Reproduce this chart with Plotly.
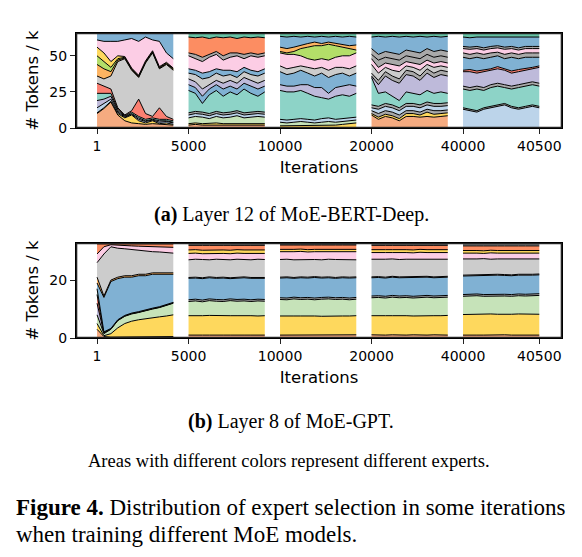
import plotly.graph_objects as go

# x layout: five windows of 500 iterations each, drawn side by side with gaps
PANEL_POS = [0, 600, 1200, 1800, 2400]
SAMPLE_OFFSETS = [0, 45, 91, 136, 182, 227, 273, 318, 364, 409, 455, 500]
TICK_POS = [0, 600, 1200, 1800, 2400, 2900]
TICK_TEXT = ["1", "5000", "10000", "20000", "40000", "40500"]
X_RANGE = [-138, 3049]

SALMON = "#f5ab80"
YELLOW = "#fed85d"
LGREEN = "#c6e3b9"
LBLUE = "#bcd4ea"
TEAL = "#8dd3c7"
LAVENDER = "#bebada"
RED = "#fb8072"
BLUE = "#80b1d3"
GRAY = "#cccccc"
PINK = "#fccde5"
LIME = "#b3de69"
ORANGE = "#fc8d62"
SEAGREEN = "#66c2a5"
AMBER = "#fdb462"
THIN = "#a9a9a9"

# (a) Layer 12 of MoE-BERT-Deep: cumulative tokens (k) at the upper edge of each expert, bottom expert first
bert_p1_colors = [SALMON, YELLOW, LBLUE, LAVENDER, TEAL, RED, GRAY, AMBER, LIME, YELLOW, PINK, BLUE]
bert_p1 = [
    [10, 13.5, 18, 9, 5, 3.5, 3, 2.5, 3, 2.5, 2.5, 2],
    [10.5, 14, 18.5, 10, 7, 9, 5, 3.5, 5, 3, 3.5, 2.5],
    [14, 17, 20, 11, 7.5, 9.5, 6, 4.5, 5.5, 4, 4.5, 3.5],
    [19, 20, 22, 12, 8, 10, 7, 5, 6, 5, 5, 4],
    [24, 24, 24, 13, 8.5, 11, 8, 6, 7, 6, 6, 5],
    [31, 29, 27, 14, 9, 12, 20, 10, 8, 14, 8, 6],
    [36, 34, 36, 46, 48, 40, 35, 45, 52, 41, 44, 40],
    [44, 41, 39, 47, 48.5, 40.5, 35.5, 45.5, 52.5, 41.5, 44.5, 40.5],
    [50, 46, 42, 48, 49, 41, 36, 46, 53, 42, 45, 41],
    [56, 52, 46, 50, 49.5, 41.5, 36.5, 46.5, 53.5, 42.5, 45.5, 41.5],
    [61, 60, 60, 60, 61, 62, 60, 63, 61, 60, 52, 48],
    [65.5, 65.5, 65.5, 65.5, 65.5, 65.5, 65.5, 65.5, 65.5, 65.5, 65.5, 65.5],
]

bert_p2_colors = [SALMON, YELLOW, LGREEN, LBLUE, THIN, TEAL, BLUE, LAVENDER, GRAY, BLUE, PINK, THIN, ORANGE, SEAGREEN]
bert_p2 = [
    [2, 2.5, 2, 2, 2.5, 2, 2, 2.5, 2, 2, 2.5, 2],
    [3, 3.5, 3, 3.5, 3.5, 3, 3, 3.5, 3, 3, 3.5, 3],
    [7, 8, 7.5, 6.5, 8, 7, 7.5, 8.5, 7, 7.5, 8, 7.5],
    [9, 10, 9.5, 8.5, 10, 9, 9.5, 10.5, 9, 9.5, 10, 9.5],
    [10.5, 11.5, 11, 10, 11.5, 10.5, 11, 12, 10.5, 11, 11.5, 11],
    [26, 24, 17, 23, 26, 22, 25, 23, 27, 24, 22, 25],
    [30, 28, 22, 27, 30, 27, 29, 27, 31, 29, 27, 29],
    [34, 32, 27, 30, 33, 31, 33, 31, 35, 33, 31, 33],
    [38, 37, 34, 35, 38, 36, 37, 35, 39, 37, 36, 38],
    [41, 40, 38, 39, 41, 40, 40, 39, 42, 40, 39, 41],
    [50, 48, 46, 49, 51, 47, 49, 50, 48, 50, 49, 50],
    [52, 51, 49, 51, 53, 50, 52, 52, 51, 52, 51, 52],
    [63, 62.5, 63, 62, 63, 62.5, 63, 62, 63, 62.5, 63, 62.5],
    [65.5, 65.5, 65.5, 65.5, 65.5, 65.5, 65.5, 65.5, 65.5, 65.5, 65.5, 65.5],
]

bert_p3_colors = [YELLOW, LGREEN, LBLUE, TEAL, LAVENDER, BLUE, GRAY, PINK, LIME, AMBER, BLUE, SEAGREEN]
bert_p3 = [
    [1.5, 1.5, 1.5, 1.5, 2, 1.5, 2, 1.5, 2, 2.5, 3, 3.5],
    [4, 3.5, 4, 4.5, 4, 3.5, 4, 4.5, 4, 4.5, 5, 5.5],
    [6, 5.5, 6, 6.5, 6, 5.5, 6.5, 7, 6, 6.5, 7, 7.5],
    [26, 25, 25, 26, 24, 22, 21, 20, 22, 23, 22, 24],
    [30, 29, 29, 30, 30, 28, 28, 24, 28, 29, 30, 29],
    [39, 37, 38, 40, 38, 36, 38, 35, 37, 38, 36, 38],
    [43, 41, 42, 43, 42, 41, 42, 40, 42, 42, 41, 43],
    [52, 51, 51, 50, 48, 47, 48, 47, 49, 50, 50, 52],
    [53, 52, 53, 55, 56, 57, 57, 58, 57, 56, 55, 54],
    [56, 55, 56, 57.5, 58.5, 59.5, 58.5, 59.5, 58.5, 58, 57, 57.5],
    [63.5, 63, 63.5, 63, 63.5, 63, 63.5, 63, 63.5, 63, 63.5, 63],
    [65.5, 65.5, 65.5, 65.5, 65.5, 65.5, 65.5, 65.5, 65.5, 65.5, 65.5, 65.5],
]

bert_p4_colors = [SALMON, YELLOW, THIN, LBLUE, THIN, TEAL, LAVENDER, THIN, GRAY, PINK, THIN, THIN, BLUE, SEAGREEN]
bert_p4 = [
    [9, 6, 8, 7, 5, 8, 8, 7.5, 8, 7.5, 8, 8.5],
    [10, 7.5, 9.5, 8.5, 6.5, 10, 10, 9, 11, 9.5, 10, 10.5],
    [12, 10, 12, 11, 9, 12, 12, 11, 13, 12, 12, 12.5],
    [14, 13, 15, 14, 12, 15, 15, 14, 16, 15, 15, 15.5],
    [16, 15, 17, 16, 14, 17, 17, 16, 18, 17, 17, 17.5],
    [35, 24, 25, 22, 19, 25, 24, 23, 26, 24, 25, 24],
    [36, 30, 36, 33, 31, 37, 36, 33, 38, 35, 37, 36],
    [38, 33, 39, 36, 34, 40, 39, 36, 41, 38, 40, 39],
    [44, 38, 42, 40, 39, 43, 42, 40, 44, 42, 43, 42],
    [48, 42, 45, 44, 43, 46, 45, 44, 47, 45, 46, 45],
    [51, 47, 49, 48, 47, 50, 49, 48, 51, 49, 50, 49],
    [55, 51, 53, 52, 51, 54, 53, 52, 55, 53, 54, 53],
    [63, 63.5, 63, 63.5, 63, 63.5, 63, 63.5, 63, 63.5, 63, 63.5],
    [65.5, 65.5, 65.5, 65.5, 65.5, 65.5, 65.5, 65.5, 65.5, 65.5, 65.5, 65.5],
]

bert_p5_colors = [LBLUE, THIN, TEAL, THIN, LAVENDER, RED, BLUE, THIN, PINK, THIN, BLUE, SEAGREEN]
bert_p5 = [
    [13, 12, 11, 13, 14, 15, 16, 14, 13, 14, 15, 14],
    [14, 13, 12, 14, 15, 16, 17, 15, 14, 15, 16, 15],
    [27, 26, 27, 26, 28, 29, 28, 27, 28, 29, 30, 29],
    [29, 28, 29, 28, 30, 31, 30, 29, 30, 31, 32, 31],
    [39, 39, 38, 39, 40, 41, 40, 38, 39, 40, 41, 42],
    [40, 40.5, 39.5, 40, 41, 42.5, 41, 39.5, 40.5, 41.5, 42, 43],
    [49, 48, 49, 48, 49, 50, 48, 49, 48, 49, 49, 49],
    [52, 51, 52, 51, 52, 52.5, 51, 52, 51, 52, 52, 52],
    [55, 54.5, 55, 54, 55, 55.5, 54.5, 55, 54, 55, 55, 55],
    [56.5, 56, 56.5, 55.5, 56.5, 57, 56, 56.5, 55.5, 56.5, 56.5, 56.5],
    [63, 62.5, 63, 63, 62.5, 63, 63, 62.5, 63, 63, 62.5, 63],
    [65.5, 65.5, 65.5, 65.5, 65.5, 65.5, 65.5, 65.5, 65.5, 65.5, 65.5, 65.5],
]

# (b) Layer 8 of MoE-GPT
gpt_p1_colors = [SALMON, YELLOW, LGREEN, LAVENDER, RED, TEAL, BLUE, AMBER, GRAY, PINK, ORANGE]
gpt_p1 = [
    [3, 0.5, 0.3, 0.3, 0.3, 0.3, 0.3, 0.3, 0.4, 0.4, 0.5, 0.5],
    [5, 0.8, 1.5, 3.5, 5, 5.8, 6.3, 6.7, 7, 7.3, 7.6, 8],
    [8, 1.5, 3, 6, 7.5, 8.3, 8.8, 9.5, 10, 10.5, 11.2, 12],
    [12, 1.7, 3.1, 6.1, 7.6, 8.4, 8.9, 9.6, 10.1, 10.6, 11.3, 12.1],
    [15, 1.9, 3.2, 6.2, 7.7, 8.5, 9, 9.7, 10.2, 10.7, 11.4, 12.2],
    [17, 2.1, 3.3, 6.3, 7.8, 8.6, 9.1, 9.8, 10.3, 10.8, 11.5, 12.3],
    [19, 14, 19.5, 20.5, 21, 21, 21.5, 21.5, 22, 22, 22, 22],
    [21, 14.5, 20, 21, 21.5, 21.5, 22, 22, 22.5, 22.5, 22.5, 22.5],
    [26, 29, 31.5, 31, 30.8, 30.5, 30.3, 30, 29.8, 29.7, 29.5, 29.3],
    [29, 31.5, 32.2, 32, 31.9, 31.8, 31.7, 31.6, 31.5, 31.5, 31.4, 31.3],
    [32.5, 32.5, 32.5, 32.5, 32.5, 32.5, 32.5, 32.5, 32.5, 32.5, 32.5, 32.5],
]

gpt_flat_colors = [SALMON, YELLOW, LGREEN, THIN, BLUE, THIN, GRAY, PINK, YELLOW, ORANGE, THIN]
gpt_p2 = [
    [1.0, 1.1, 1.0, 1.0, 1.1, 1.0, 1.0, 1.1, 1.0, 1.0, 1.1, 1.0],
    [7.7, 7.6, 7.7, 7.8, 7.7, 7.6, 7.7, 7.7, 7.8, 7.7, 7.6, 7.7],
    [12.6, 12.8, 12.5, 12.9, 12.7, 12.6, 12.9, 12.7, 12.8, 12.6, 12.8, 12.7],
    [13.2, 13.4, 13.1, 13.5, 13.3, 13.2, 13.5, 13.3, 13.4, 13.2, 13.4, 13.3],
    [20.6, 20.7, 20.5, 20.8, 20.6, 20.7, 20.5, 20.6, 20.8, 20.6, 20.7, 20.6],
    [20.9, 21.0, 20.8, 21.1, 20.9, 21.0, 20.8, 20.9, 21.1, 20.9, 21.0, 20.9],
    [27.0, 27.2, 27.1, 27.0, 27.2, 27.1, 27.0, 27.2, 27.1, 27.0, 27.2, 27.1],
    [29.2, 29.3, 29.1, 29.2, 29.3, 29.2, 29.1, 29.3, 29.2, 29.2, 29.3, 29.2],
    [30.4, 30.5, 30.3, 30.4, 30.5, 30.4, 30.3, 30.5, 30.4, 30.4, 30.5, 30.4],
    [32.0, 32.1, 32.0, 32.0, 32.1, 32.0, 32.0, 32.1, 32.0, 32.0, 32.1, 32.0],
    [32.5, 32.5, 32.5, 32.5, 32.5, 32.5, 32.5, 32.5, 32.5, 32.5, 32.5, 32.5],
]
gpt_p3 = [
    [1.0, 1.0, 1.1, 1.0, 1.0, 1.1, 1.0, 1.0, 1.1, 1.0, 1.0, 1.1],
    [7.6, 7.7, 7.6, 7.6, 7.7, 7.6, 7.5, 7.6, 7.7, 7.6, 7.6, 7.7],
    [13.3, 13.2, 13.5, 13.3, 13.4, 13.2, 13.4, 13.5, 13.3, 13.4, 13.2, 13.4],
    [13.9, 13.8, 14.1, 13.9, 14.0, 13.8, 14.0, 14.1, 13.9, 14.0, 13.8, 14.0],
    [20.7, 20.8, 20.6, 20.8, 20.7, 20.9, 20.7, 20.8, 20.6, 20.8, 20.7, 20.8],
    [21.0, 21.1, 20.9, 21.1, 21.0, 21.2, 21.0, 21.1, 20.9, 21.1, 21.0, 21.1],
    [27.1, 27.2, 27.0, 27.1, 27.2, 27.1, 27.0, 27.2, 27.1, 27.1, 27.2, 27.0],
    [29.8, 29.7, 29.8, 29.9, 29.7, 29.8, 29.8, 29.7, 29.9, 29.8, 29.7, 29.8],
    [30.6, 30.5, 30.6, 30.7, 30.5, 30.6, 30.6, 30.5, 30.7, 30.6, 30.5, 30.6],
    [32.1, 32.0, 32.1, 32.1, 32.0, 32.1, 32.1, 32.0, 32.1, 32.1, 32.0, 32.1],
    [32.5, 32.5, 32.5, 32.5, 32.5, 32.5, 32.5, 32.5, 32.5, 32.5, 32.5, 32.5],
]
gpt_p4 = [
    [1.1, 1.0, 1.0, 1.1, 1.0, 1.0, 1.1, 1.0, 1.0, 1.1, 1.0, 1.0],
    [7.7, 7.8, 7.7, 7.7, 7.8, 7.7, 7.6, 7.7, 7.8, 7.7, 7.7, 7.8],
    [13.9, 14.0, 13.8, 14.1, 13.9, 14.0, 13.8, 14.0, 14.1, 13.9, 14.0, 14.1],
    [14.5, 14.6, 14.4, 14.7, 14.5, 14.6, 14.4, 14.6, 14.7, 14.5, 14.6, 14.7],
    [20.8, 20.9, 20.7, 21.0, 20.8, 20.9, 20.8, 20.9, 21.0, 20.8, 20.9, 21.0],
    [21.1, 21.2, 21.0, 21.3, 21.1, 21.2, 21.1, 21.2, 21.3, 21.1, 21.2, 21.3],
    [27.2, 27.1, 27.2, 27.3, 27.1, 27.2, 27.2, 27.1, 27.3, 27.2, 27.1, 27.2],
    [29.5, 29.6, 29.5, 29.5, 29.6, 29.5, 29.4, 29.6, 29.5, 29.5, 29.6, 29.5],
    [30.5, 30.6, 30.5, 30.5, 30.6, 30.5, 30.4, 30.6, 30.5, 30.5, 30.6, 30.5],
    [32.0, 32.1, 32.0, 32.0, 32.1, 32.0, 32.0, 32.1, 32.0, 32.0, 32.1, 32.0],
    [32.5, 32.5, 32.5, 32.5, 32.5, 32.5, 32.5, 32.5, 32.5, 32.5, 32.5, 32.5],
]
gpt_p5 = [
    [1.0, 1.1, 1.0, 1.0, 1.1, 1.0, 1.1, 1.0, 1.0, 1.1, 1.0, 1.0],
    [8.1, 8.2, 8.1, 8.2, 8.3, 8.2, 8.1, 8.2, 8.3, 8.2, 8.1, 8.2],
    [14.4, 14.5, 14.6, 14.4, 14.5, 14.6, 14.5, 14.4, 14.6, 14.5, 14.6, 14.7],
    [15.0, 15.1, 15.2, 15.0, 15.1, 15.2, 15.1, 15.0, 15.2, 15.1, 15.2, 15.3],
    [21.4, 21.5, 21.6, 21.5, 21.6, 21.7, 21.6, 21.5, 21.7, 21.6, 21.7, 21.8],
    [21.7, 21.8, 21.9, 21.8, 21.9, 22.0, 21.9, 21.8, 22.0, 21.9, 22.0, 22.1],
    [27.3, 27.2, 27.3, 27.4, 27.2, 27.3, 27.3, 27.2, 27.4, 27.3, 27.2, 27.3],
    [29.3, 29.4, 29.3, 29.2, 29.4, 29.3, 29.3, 29.4, 29.2, 29.3, 29.4, 29.3],
    [30.2, 30.3, 30.2, 30.1, 30.3, 30.2, 30.2, 30.3, 30.1, 30.2, 30.3, 30.2],
    [31.8, 31.9, 31.8, 31.8, 31.9, 31.8, 31.8, 31.9, 31.8, 31.8, 31.9, 31.8],
    [32.5, 32.5, 32.5, 32.5, 32.5, 32.5, 32.5, 32.5, 32.5, 32.5, 32.5, 32.5],
]

# the page body has an 8px margin, so the figure is drawn 8px smaller and offset
PAD = 8
W, H = 582 - PAD, 557 - PAD
AX_LEFT, AX_RIGHT = 76, 562
TICK_LEN = 5
FRAME_PX = 1.3


def px(x):
    return (x - PAD) / W


def py(y):
    return 1 - (y - PAD) / H


def add_panel(fig, panel, colors, edges, xref, yref):
    xs = [PANEL_POS[panel] + o for o in SAMPLE_OFFSETS]
    for i, (color, ys) in enumerate(zip(colors, edges)):
        fig.add_trace(go.Scatter(
            x=xs, y=ys, mode="lines",
            fill="tozeroy" if i == 0 else "tonexty",
            fillcolor=color,
            line=dict(color="black", width=1),
            xaxis=xref, yaxis=yref,
            showlegend=False, hoverinfo="skip",
        ))


def add_frame(fig, xref, yref, y_range, y_ticks, top_px, bottom_px):
    # box as thin filled bands just inside the axes, tick marks as markers
    x0, x1 = X_RANGE
    y0, y1 = y_range
    ux = (x1 - x0) / (AX_RIGHT - AX_LEFT)
    uy = (y1 - y0) / (bottom_px - top_px)
    bx, by = FRAME_PX * ux, FRAME_PX * uy
    bands = [
        (x0, x1, y0, y0 + by), (x0, x1, y1 - by, y1),
        (x0, x0 + bx, y0, y1), (x1 - bx, x1, y0, y1),
    ]
    for a, b, c, d in bands:
        fig.add_trace(go.Scatter(
            x=[a, b, b, a, a], y=[c, c, d, d, c], mode="lines", fill="toself",
            fillcolor="#222222", line=dict(width=0), xaxis=xref, yaxis=yref,
            showlegend=False, hoverinfo="skip",
        ))
    dy = (TICK_LEN / 2) * uy
    dx = (TICK_LEN / 2) * ux
    fig.add_trace(go.Scatter(
        x=TICK_POS, y=[y0 - dy] * len(TICK_POS), mode="markers", cliponaxis=False,
        marker=dict(symbol="line-ns", size=TICK_LEN, line=dict(color="#222222", width=1.2)),
        xaxis=xref, yaxis=yref, showlegend=False, hoverinfo="skip",
    ))
    fig.add_trace(go.Scatter(
        x=[x0 - dx] * len(y_ticks), y=y_ticks, mode="markers", cliponaxis=False,
        marker=dict(symbol="line-ew", size=TICK_LEN, line=dict(color="#222222", width=1.2)),
        xaxis=xref, yaxis=yref, showlegend=False, hoverinfo="skip",
    ))


fig = go.Figure()
bert = [(bert_p1_colors, bert_p1), (bert_p2_colors, bert_p2), (bert_p3_colors, bert_p3),
        (bert_p4_colors, bert_p4), (bert_p5_colors, bert_p5)]
gpt = [(gpt_p1_colors, gpt_p1), (gpt_flat_colors, gpt_p2), (gpt_flat_colors, gpt_p3),
       (gpt_flat_colors, gpt_p4), (gpt_flat_colors, gpt_p5)]
for k, (c, e) in enumerate(bert):
    add_panel(fig, k, c, e, "x", "y")
for k, (c, e) in enumerate(gpt):
    add_panel(fig, k, c, e, "x2", "y2")

BERT_RANGE, BERT_TICKS = [0, 65.8], [0, 25, 50]
GPT_RANGE, GPT_TICKS = [0, 32.8], [0, 20]
add_frame(fig, "x", "y", BERT_RANGE, BERT_TICKS, 33, 128)
add_frame(fig, "x2", "y2", GPT_RANGE, GPT_TICKS, 243, 338)

tick_font = dict(family="DejaVu Sans", size=14, color="black")
title_font = dict(family="DejaVu Sans", size=16.5, color="black")
common_x = dict(
    range=X_RANGE, tickvals=TICK_POS, ticktext=TICK_TEXT, tickfont=tick_font,
    ticks="outside", ticklen=TICK_LEN, tickcolor="#222222", tickwidth=1, showline=True,
    linecolor="black", linewidth=1, mirror=True, showgrid=False, zeroline=False,
    domain=[px(AX_LEFT), px(AX_RIGHT)], automargin=False,
    title=dict(text="Iterations", font=title_font, standoff=8),
)
common_y = dict(
    tickfont=tick_font, ticks="outside", ticklen=TICK_LEN, tickcolor="#222222", tickwidth=1,
    showline=True, linecolor="black", linewidth=1, mirror=True, showgrid=False,
    zeroline=False, automargin=False,
    title=dict(text="# Tokens / k", font=title_font, standoff=6),
)

fig.update_layout(
    template="none",
    width=W, height=H, margin=dict(l=0, r=0, t=0, b=0, pad=0),
    paper_bgcolor="white", plot_bgcolor="white",
    xaxis=dict(common_x, anchor="y"),
    yaxis=dict(common_y, range=BERT_RANGE, tickvals=BERT_TICKS, anchor="x",
               domain=[py(128), py(33)]),
    xaxis2=dict(common_x, anchor="y2"),
    yaxis2=dict(common_y, range=GPT_RANGE, tickvals=GPT_TICKS, anchor="x2",
                domain=[py(338), py(243)]),
)

serif = "Liberation Serif"
captions = [
    ("<b>(a)</b> Layer 12 of MoE-BERT-Deep.", px(291), 214, "center", 20),
    ("<b>(b)</b> Layer 8 of MoE-GPT.", px(291), 421, "center", 20),
    ("Areas with different colors represent different experts.", px(289), 461, "center", 18.5),
    ("<b>Figure 4.</b> Distribution of expert selection in some iterations", px(14), 507, "left", 23),
    ("when training different MoE models.", px(14), 534, "left", 23),
]
for text, x, y, anchor, size in captions:
    fig.add_annotation(text=text, x=x, y=py(y), xref="paper", yref="paper",
                       xanchor=anchor, yanchor="middle", showarrow=False,
                       font=dict(family=serif, size=size, color="black"))

fig.write_html("out.html")
